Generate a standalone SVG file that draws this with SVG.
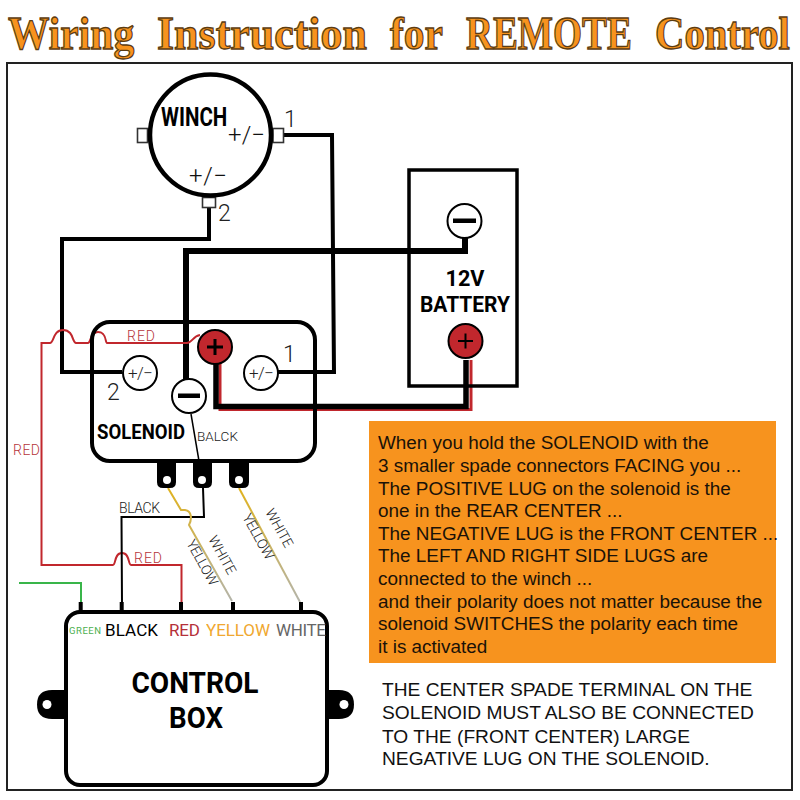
<svg xmlns="http://www.w3.org/2000/svg" width="800" height="800" viewBox="0 0 800 800">
<style>
text{font-family:"Roboto","Liberation Sans",sans-serif;fill:#222;opacity:.995}
.b{font-weight:700;fill:#000}
.n{font-family:"Liberation Sans",Arial,sans-serif;fill:#1a1208;font-size:18.9px}
.m{font-family:"Liberation Sans",Arial,sans-serif;fill:#111;font-size:19.2px}
.t{font-family:"Liberation Serif","Times New Roman",serif;font-weight:700;font-size:47px;fill:#f7931e;stroke:#5c3c12;stroke-width:1.3px}
.w{fill:none;stroke:#000;stroke-linejoin:miter}
.r{fill:none;stroke:#c1272d;stroke-width:2}
.sm{font-size:14px;font-weight:300;fill:#222}
.red{font-size:14px;font-weight:300;fill:#b5343a}
.c{fill:#fff;stroke:#000;stroke-width:2}
.tab{fill:#fff;stroke:#333;stroke-width:1.6}
.pm{font-size:17px;font-weight:300;fill:#222}
.big{font-size:24px;font-weight:300;fill:#111}
.d{font-size:23px;font-weight:300;fill:#222}
.sp{fill:#000}
.h{fill:#fff}
</style>
<defs>
<linearGradient id="yw1" gradientUnits="userSpaceOnUse" x1="168" y1="488" x2="231" y2="600"><stop offset="0" stop-color="#e0b21e"/><stop offset="1" stop-color="#b4b4a8"/></linearGradient>
<linearGradient id="yw2" gradientUnits="userSpaceOnUse" x1="239" y1="488" x2="300" y2="600"><stop offset="0" stop-color="#e0b21e"/><stop offset="1" stop-color="#b4b4a8"/></linearGradient>
</defs>
<rect width="800" height="800" fill="#fff"/>
<g id="title">
<text class="t" transform="translate(8 49) scale(.884 1)">Wiring</text>
<text class="t" transform="translate(157 49) scale(.935 1)">Instruction</text>
<text class="t" transform="translate(390 49) scale(.883 1)">for</text>
<text class="t" transform="translate(466 49) scale(.794 1)">REMOTE</text>
<text class="t" transform="translate(655 49) scale(.866 1)">Control</text>
</g>
<rect id="frame" x="7" y="63" width="785" height="727" fill="none" stroke="#222" stroke-width="2"/>

<g id="connectors">
<path class="w" stroke-width="4" d="M284 135H332L334 372H278"/>
<path class="w" stroke-width="4" d="M209 207V239H62V372H122"/>
<path class="w" stroke-width="6" d="M465 238V251H186V380"/>
<path class="r" style="stroke-width:3" d="M220 362V409.500H471V360"/>
<path class="w" stroke-width="5.500" d="M216 362V406.500H466V360"/>
<path class="r" d="M200 335C193 336 192 343 187 343H107C105 343 107 332 98 332C90 332 91 343 88 343H76C72 343 74 330 63 330C53 330 54 343 50 343H41.500V565H113C116 565 114 553 122 553C130 553 128 565 131 565H181.500V604"/>
<path class="w" stroke-width="1.500" d="M191 414L199 461"/>
<path class="w" stroke-width="2" d="M203 488L204 517H121.500L122 604"/>
<path fill="none" stroke="url(#yw1)" stroke-width="2" d="M168 488L181 510H185C192 511 192 519 189 525L232 601"/>
<path fill="none" stroke="url(#yw2)" stroke-width="2" d="M239 488L300 602"/>
<path fill="none" stroke="#39b54a" stroke-width="2" d="M19 583H81V604"/>
</g>

<g id="winch">
<rect class="tab" x="137.500" y="128.500" width="10" height="14"/>
<rect class="tab" x="273" y="128.500" width="10.500" height="14"/>
<rect class="tab" x="202.500" y="197.500" width="13" height="10"/>
<circle cx="210.500" cy="135" r="60.500" fill="#fff" stroke="#000" stroke-width="4.500"/>
<text class="b" transform="translate(161 126) scale(.82 1)" font-size="25">WINCH</text>
<text class="big" x="228" y="143" textLength="37">+/−</text>
<text class="big" x="189" y="184" textLength="38">+/−</text>
<text class="d" x="284" y="127">1</text>
<text class="d" x="218" y="221">2</text>
</g>

<g id="battery">
<rect x="409" y="170" width="108" height="216" fill="none" stroke="#000" stroke-width="3.500"/>
<circle class="c" cx="464.500" cy="221" r="17"/>
<rect x="453" y="218.500" width="23" height="4.500" fill="#000"/>
<text class="b" x="465" y="286" font-size="22" text-anchor="middle" textLength="39" lengthAdjust="spacingAndGlyphs">12V</text>
<text class="b" x="465" y="312" font-size="22" text-anchor="middle" textLength="90" lengthAdjust="spacingAndGlyphs">BATTERY</text>
<circle cx="465.500" cy="341" r="17" fill="#c1272d" stroke="#000" stroke-width="2"/>
<path d="M458 341H473M465.500 333.500V348.500" stroke="#000" stroke-width="2"/>
</g>

<g id="solenoid">
<rect x="92" y="322" width="223" height="139" rx="18" fill="none" stroke="#000" stroke-width="4"/>
<path class="sp" d="M157 461H176V482Q176 488 170 488H163Q157 488 157 482Z"/>
<path class="sp" d="M193 461H212V482Q212 488 206 488H199Q193 488 193 482Z"/>
<path class="sp" d="M229 461H249V482Q249 488 243 488H235Q229 488 229 482Z"/>
<circle class="h" cx="167" cy="480" r="4"/><circle class="h" cx="202" cy="480" r="4"/><circle class="h" cx="239" cy="480" r="4"/>
<circle class="c" cx="140" cy="373" r="17"/>
<text class="pm" x="128" y="379" textLength="25">+/−</text>
<circle class="c" cx="261" cy="373" r="17"/>
<text class="pm" x="249" y="379" textLength="25">+/−</text>
<circle class="c" cx="189" cy="396" r="17"/>
<rect x="178" y="393.500" width="22" height="4.500" fill="#000"/>
<circle cx="215" cy="347" r="17" fill="#c1272d" stroke="#000" stroke-width="2"/>
<path d="M207 347H223M215 339V355" stroke="#000" stroke-width="3"/>
<text class="b" x="97" y="439" font-size="21" textLength="88" lengthAdjust="spacingAndGlyphs">SOLENOID</text>
<text class="sm" x="197" y="441" textLength="41" style="font-size:13.500px">BALCK</text>
<text class="d" x="283" y="362">1</text>
<text class="d" x="107" y="400">2</text>
</g>

<g id="wire-labels">
<text class="red" x="127" y="341" textLength="28">RED</text>
<text class="red" x="13" y="455" textLength="27">RED</text>
<text class="red" x="134" y="563" textLength="28">RED</text>
<text class="sm" x="119" y="513" textLength="41">BLACK</text>
<text class="sm" transform="translate(186 543) rotate(61)" textLength="50">YELLOW</text>
<text class="sm" transform="translate(208 539) rotate(61)" textLength="42">WHITE</text>
<text class="sm" transform="translate(242 517) rotate(61)" textLength="50">YELLOW</text>
<text class="sm" transform="translate(265 512) rotate(61)" textLength="42">WHITE</text>
</g>

<g id="control-box">
<path class="sp" d="M66 690H52Q37 690 37 704.500Q37 719 52 719H66Z"/>
<path class="sp" d="M327 690H339Q354 690 354 704.500Q354 719 339 719H327Z"/>
<circle class="h" cx="47" cy="704.500" r="4.500"/><circle class="h" cx="344" cy="704.500" r="4.500"/>
<rect x="66" y="612" width="261" height="173" rx="14" fill="#fff" stroke="#000" stroke-width="4"/>
<path d="M80.700 602V612M121.700 602V612M181 602V612M233 602V612M301 602V612" stroke="#000" stroke-width="4"/>
<text x="69" y="634" font-size="9.500" style="fill:#4caf50" textLength="32">GREEN</text>
<text x="105" y="636" font-size="17" style="fill:#000" textLength="53">BLACK</text>
<text x="169" y="636" font-size="17" style="fill:#b5303a" textLength="31">RED</text>
<text x="206" y="636" font-size="17" style="fill:#f0a830" textLength="64">YELLOW</text>
<text x="276" y="636" font-size="17" style="fill:#666" textLength="50">WHITE</text>
<text class="b" x="195" y="692.500" font-size="30" text-anchor="middle" textLength="127" lengthAdjust="spacingAndGlyphs">CONTROL</text>
<text class="b" x="196" y="728" font-size="30" text-anchor="middle" textLength="54" lengthAdjust="spacingAndGlyphs">BOX</text>
</g>

<g id="notes">
<rect x="369" y="421" width="407" height="242" fill="#f7931e"/>
<text class="n" x="378" y="449">When you hold the SOLENOID with the</text>
<text class="n" x="378" y="472">3 smaller spade connectors FACING you ...</text>
<text class="n" x="378" y="495">The POSITIVE LUG on the solenoid is the</text>
<text class="n" x="378" y="517">one in the REAR CENTER ...</text>
<text class="n" x="378" y="540">The NEGATIVE LUG is the FRONT CENTER ...</text>
<text class="n" x="378" y="562">The LEFT AND RIGHT SIDE LUGS are</text>
<text class="n" x="378" y="585">connected to the winch ...</text>
<text class="n" x="378" y="608">and their polarity does not matter because the</text>
<text class="n" x="378" y="630">solenoid SWITCHES the polarity each time</text>
<text class="n" x="378" y="653">it is activated</text>
<text class="m" x="382" y="696">THE CENTER SPADE TERMINAL ON THE</text>
<text class="m" x="382" y="719">SOLENOID MUST ALSO BE CONNECTED</text>
<text class="m" x="382" y="743">TO THE (FRONT CENTER) LARGE</text>
<text class="m" x="382" y="765">NEGATIVE LUG ON THE SOLENOID.</text>
</g>
</svg>
